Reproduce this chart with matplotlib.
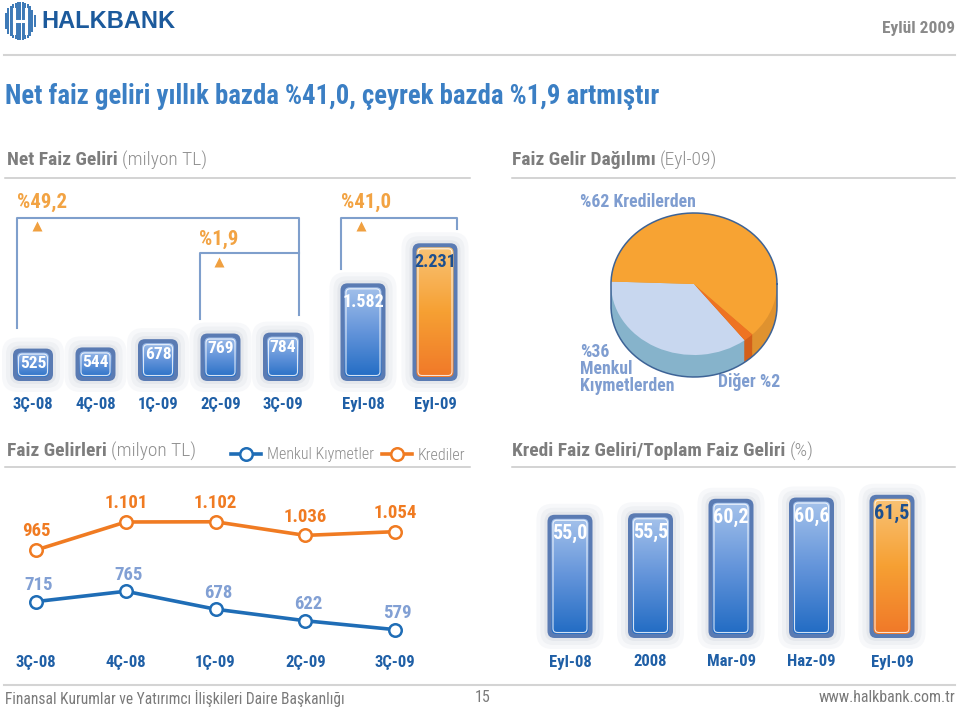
import numpy as np
import matplotlib
matplotlib.use('Agg')
import matplotlib.pyplot as plt
from matplotlib.patches import FancyBboxPatch
from matplotlib.colors import LinearSegmentedColormap

plt.rcParams['font.family'] = ['Roboto Condensed', 'DejaVu Sans']

# ---------------- data ----------------
nfg_quarters = ['3Ç-08', '4Ç-08', '1Ç-09', '2Ç-09', '3Ç-09']
nfg_quarter_values = [525, 544, 678, 769, 784]
nfg_periods = ['Eyl-08', 'Eyl-09']
nfg_period_values = [1582, 2231]
growth_labels = ['%49,2', '%1,9', '%41,0']

pie_labels = ['Menkul Kıymetlerden', 'Diğer', 'Kredilerden']
pie_values = [36, 2, 62]

fg_quarters = ['3Ç-08', '4Ç-08', '1Ç-09', '2Ç-09', '3Ç-09']
fg_menkul = [715, 765, 678, 622, 579]
fg_krediler = [965, 1101, 1102, 1036, 1054]

ratio_periods = ['Eyl-08', '2008', 'Mar-09', 'Haz-09', 'Eyl-09']
ratio_values = [55.0, 55.5, 60.2, 60.6, 61.5]

# ---------------- style ----------------
W, H = 960, 711
C_TITLE = '#3b7fc4'
C_CAT = '#1f5fa6'
C_GRAY = '#7d7d7d'
C_LGRAY = '#8f8f8f'
C_ORANGE_TXT = '#f2a343'
C_BRACKET = '#7f9fcc'
C_PIE_TXT = '#7f9dd0'
C_MENKUL = '#1f6db6'
C_KREDI = '#f07b22'
C_DARKLAB = '#1d4f8f'

BLUE_CM = LinearSegmentedColormap.from_list('blu', ['#a9c5ec', '#6394da', '#1d69c2'])
ORNG_CM = LinearSegmentedColormap.from_list('org', ['#f9c57a', '#f6a033', '#f07628'])

fig = plt.figure(figsize=(W / 100, H / 100), dpi=100)
bg = fig.add_axes([0, 0, 1, 1])
bg.set_xlim(0, W)
bg.set_ylim(H, 0)
bg.axis('off')
renderer = fig.canvas.get_renderer()


def px_axes(x0, y0, x1, y1):
    ax = fig.add_axes([x0 / W, 1 - y1 / H, (x1 - x0) / W, (y1 - y0) / H])
    ax.axis('off')
    return ax


def tr(v):
    return f"{v:,}".replace(',', '.')


def dec(v):
    return f"{v:.1f}".replace('.', ',')


def fancy_bars(ax, values, bottom, width, step_px, px_per_y, cmaps, lcolors, fs=12.5, lab_off=16, fmt=tr):
    x = np.arange(len(values))
    heights = [v - bottom for v in values]
    bars = ax.bar(x, heights, width=width, bottom=bottom, color='none', edgecolor='none')
    ux = 1.0 / step_px
    uy = 1.0 / px_per_y
    asp = uy / ux
    for rect, v, cm, lc in zip(bars, values, cmaps, lcolors):
        bx, by, bw, bh = rect.get_x(), rect.get_y(), rect.get_width(), rect.get_height()

        def rbox(d, r, **kw):
            p = FancyBboxPatch((bx - d * ux, by - d * uy), bw + 2 * d * ux, bh + 2 * d * uy,
                               boxstyle=f"round,pad=0,rounding_size={r * ux}",
                               mutation_aspect=asp, clip_on=False, **kw)
            ax.add_patch(p)
            return p
        rbox(11, 16, fc='#f7f8fa', ec='none', zorder=1)
        rbox(7, 13, fc='#eff1f4', ec='none', zorder=1.1)
        rbox(3, 10, fc='#e4e7ec', ec='none', zorder=1.2)
        rbox(0, 7, fc='#5a7bb3', ec='none', zorder=2)
        inner = rbox(-4, 5, fc='none', ec='none', zorder=2.5)
        grad = np.linspace(0, 1, 256).reshape(-1, 1)
        im = ax.imshow(grad, cmap=cm, extent=[bx, bx + bw, by, by + bh], aspect='auto',
                       zorder=3, interpolation='bilinear')
        im.set_clip_path(inner)
        rbox(-5.5, 4, fc='none', ec='white', lw=0.8, zorder=4, alpha=0.8)
        ax.annotate(fmt(v), (bx + bw / 2, by + bh), xytext=(0, -lab_off * 0.72),
                    textcoords='offset points', ha='center', va='center', fontsize=fs,
                    fontweight='bold', color=lc, zorder=5)
    return bars


def cat_labels(ax, labels, y_px, fs=12):
    for i, lab in enumerate(labels):
        ax.annotate(lab, (i, H - y_px), xycoords=('data', 'figure pixels'), ha='center',
                    va='center', fontsize=fs, fontweight='bold', color=C_CAT, annotation_clip=False)


def two_part(x, y, bold, light, size=14):
    t = bg.text(x, y, bold, fontsize=size, fontweight='bold', color=C_GRAY, va='center', ha='left')
    bb = t.get_window_extent(renderer=renderer)
    bg.text(bb.x1 + 4, y, light, fontsize=size, fontweight='light', color=C_LGRAY,
            va='center', ha='left')


# ---------------- header ----------------
for xi in np.arange(6, 35, 2.4):
    hh = 19 * np.sqrt(max(0.0, 1 - ((xi - 20) / 15.5) ** 2))
    bg.plot([xi, xi], [21 - hh, 21 + hh], color='#2a6cb0', lw=1.3, solid_capstyle='butt')
bg.plot([14, 14], [9, 33], color='white', lw=2.2)
bg.plot([26, 26], [9, 33], color='white', lw=2.2)
bg.plot([14, 26], [21, 21], color='white', lw=2.2)
bg.text(41, 21, 'HALKBANK', family=['Liberation Sans', 'DejaVu Sans'], fontsize=17,
        fontweight='bold', color='#1c5a9c', va='center', ha='left')
bg.text(955, 28, 'Eylül 2009', fontsize=12.5, fontweight='bold', color='#8a8a8a', va='center', ha='right')
bg.plot([4, 955], [55, 55], color='#d4d4d4', lw=1.5)
bg.text(5, 97, 'Net faiz geliri yıllık bazda %41,0, çeyrek bazda %1,9 artmıştır', fontsize=19.3,
        fontweight='bold', color=C_TITLE, va='center', ha='left')

two_part(7, 160, 'Net Faiz Geliri', '(milyon TL)')
two_part(512, 160, 'Faiz Gelir Dağılımı', '(Eyl-09)')
two_part(7, 451, 'Faiz Gelirleri', '(milyon TL)')
two_part(512, 451, 'Kredi Faiz Geliri/Toplam Faiz Geliri', '(%)')
for y in (178, 467):
    bg.plot([5, 470], [y, y], color='#c8c8c8', lw=1.1)
    bg.plot([512, 955], [y, y], color='#c8c8c8', lw=1.1)

# ---------------- Net Faiz Geliri bars ----------------
PX_PER_UNIT = 1 / 16.2
axq = px_axes(0, 225, 316, 381)
fancy_bars(axq, nfg_quarter_values, 0, 40 / 62.5, 62.5, PX_PER_UNIT,
           [BLUE_CM] * 5, ['white'] * 5, lab_off=15)
axq.set_xlim((0 - 33) / 62.5, (316 - 33) / 62.5)
axq.set_ylim(0, 156 / PX_PER_UNIT)
cat_labels(axq, nfg_quarters, 404)

axy = px_axes(316, 225, 470, 381)
fancy_bars(axy, nfg_period_values, 0, 45 / 72, 72, PX_PER_UNIT,
           [BLUE_CM, ORNG_CM], ['white', C_DARKLAB], fs=13, lab_off=19)
axy.set_xlim((316 - 363) / 72, (470 - 363) / 72)
axy.set_ylim(0, 156 / PX_PER_UNIT)
cat_labels(axy, nfg_periods, 404)

bg.plot([17, 17, 299, 299], [328, 218, 218, 315], color=C_BRACKET, lw=1.5)
bg.plot([200, 200, 299], [319, 253, 253], color=C_BRACKET, lw=1.5)
bg.plot([341, 341, 457, 457], [269, 218, 218, 229], color=C_BRACKET, lw=1.5)
for (tx, ty), (mx, my), lab in zip([(17, 202), (199, 239), (341, 202)],
                                   [(37, 226), (219, 262), (361, 226)], growth_labels):
    bg.text(tx, ty, lab, fontsize=15, fontweight='bold', color=C_ORANGE_TXT, va='center', ha='left')
    bg.plot([mx], [my], marker='^', ms=7, color='#f0a040', mec='none')

# ---------------- pie ----------------
pax = px_axes(600, 200, 790, 395)
cxp, cyp, ra, rb = 694, 284, 83, 71
depth = 22 / rb
top_colors = ['#c8d7ef', '#ee7322', '#f7a333']
side_colors = ['#86b3cb', '#d35f1a', '#df922f']
START = 178
for d in np.linspace(depth, 0.004, 28):
    pax.pie(pie_values, colors=side_colors, startangle=START, counterclock=True,
            center=(0, -d), radius=1, wedgeprops=dict(linewidth=0))
pax.pie(pie_values, colors=top_colors, startangle=START, counterclock=True,
        center=(0, 0), radius=1, wedgeprops=dict(linewidth=0))
th1 = np.linspace(0, np.pi, 100)
th2 = np.linspace(np.pi, 2 * np.pi, 100)
ox = np.concatenate([np.cos(th1), np.cos(th2), [1]])
oy = np.concatenate([np.sin(th1), np.sin(th2) - depth, [0]])
pax.plot(ox, oy, color='#3d6396', lw=1.1)
pax.set_aspect('auto')
pax.set_xlim((600 - cxp) / ra, (790 - cxp) / ra)
pax.set_ylim((cyp - 395) / rb, (cyp - 200) / rb)
pax.axis('off')

bg.text(580, 202, f"%{pie_values[2]} {pie_labels[2]}", fontsize=12.8, fontweight='bold',
        color=C_PIE_TXT, va='center', ha='left')
bg.text(580, 369, f"%{pie_values[0]}\n" + pie_labels[0].replace(' ', '\n'), fontsize=12.8,
        fontweight='bold', color=C_PIE_TXT, va='center', ha='left', linespacing=0.95)
bg.text(718, 382, f"{pie_labels[1]} %{pie_values[1]}", fontsize=12.8, fontweight='bold',
        color=C_PIE_TXT, va='center', ha='left')

# ---------------- Faiz Gelirleri lines ----------------
axl = px_axes(0, 490, 470, 640)
x = np.arange(len(fg_quarters))
lk, = axl.plot(x, fg_krediler, color=C_KREDI, lw=2.6, marker='o', ms=9, mfc='white', mew=1.8,
               label='Krediler', zorder=3)
lm, = axl.plot(x, fg_menkul, color=C_MENKUL, lw=2.6, marker='o', ms=9, mfc='white', mew=1.8,
               label='Menkul Kıymetler', zorder=3)
for i, v in enumerate(fg_krediler):
    axl.annotate(tr(v), (i, v), xytext=(0, 13.5), textcoords='offset points', ha='center',
                 va='center', fontsize=13.5, fontweight='bold', color=C_KREDI)
for i, v in enumerate(fg_menkul):
    axl.annotate(tr(v), (i, v), xytext=(2, 12), textcoords='offset points', ha='center',
                 va='center', fontsize=13.5, fontweight='bold', color='#82a0d4')
axl.set_xlim((0 - 36) / 89.75, (470 - 36) / 89.75)
axl.set_ylim((749 - 640) * 4.85, (749 - 490) * 4.85)
cat_labels(axl, fg_quarters, 662)
leg = axl.legend(handles=[lm, lk], ncol=2, loc='center left', bbox_to_anchor=(231 / W, 1 - 455 / H),
                 bbox_transform=fig.transFigure, frameon=False, handlelength=1.9, handletextpad=0.35,
                 columnspacing=0.5, borderpad=0, borderaxespad=0,
                 prop={'size': 11.5, 'weight': 'light'}, labelcolor='#8c8c8c')

# ---------------- Kredi Faiz Geliri / Toplam ----------------
BASE = 15
axr = px_axes(520, 470, 955, 638)
fancy_bars(axr, ratio_values, BASE, 45 / 80.5, 80.5, 3.08,
           [BLUE_CM] * 4 + [ORNG_CM], ['white'] * 4 + [C_DARKLAB], fs=14.5, lab_off=19, fmt=dec)
axr.set_xlim((520 - 570) / 80.5, (955 - 570) / 80.5)
axr.set_ylim(BASE, BASE + 168 / 3.08)
cat_labels(axr, ratio_periods, 662)

# ---------------- footer ----------------
bg.plot([4, 955], [685, 685], color='#d4d4d4', lw=1.5)
bg.text(5, 698, 'Finansal Kurumlar ve Yatırımcı İlişkileri Daire Başkanlığı', fontsize=11.2,
        color='#7a7a7a', va='center', ha='left')
bg.text(483, 698, '15', fontsize=11.5, color='#7a7a7a', va='center', ha='center')
bg.text(955, 698, 'www.halkbank.com.tr', fontsize=11.5, color='#7a7a7a', va='center', ha='right')

fig.savefig('out.png', dpi=100, facecolor='white')
